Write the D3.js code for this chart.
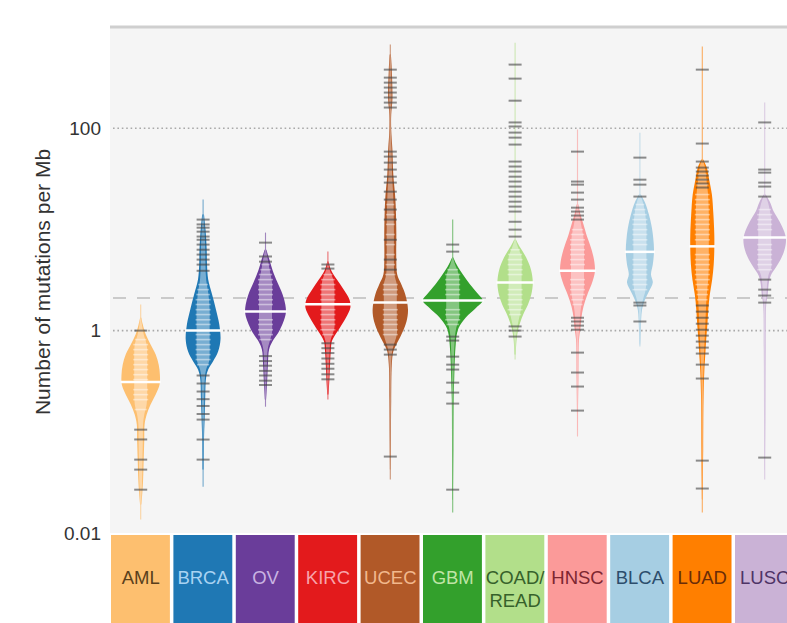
<!DOCTYPE html>
<html>
<head>
<meta charset="utf-8">
<script src="https://cdn.jsdelivr.net/npm/d3@7"></script>
<style>
  html, body { margin: 0; padding: 0; background: #ffffff; }
  svg { display: block; font-family: "Liberation Sans", Arial, Helvetica, sans-serif; }
</style>
</head>
<body>
<svg id="chart" width="787" height="623"></svg>
<script>
// Tumour types, left to right
const categories = ["AML", "BRCA", "OV", "KIRC", "UCEC", "GBM", "COAD/READ", "HNSC", "BLCA", "LUAD", "LUSC"];
const fillColors = ["#fdbf6f", "#1f78b4", "#6a3d9a", "#e31a1c", "#b15928", "#33a02c", "#b2df8a", "#fb9a99", "#a6cee3", "#ff7f00", "#cab2d6"];
const labelColors = ["#5a3f1c", "#a9d3f2", "#c9b3e2", "#f8a3ab", "#f2b88d", "#bfe5a6", "#36612b", "#7d2631", "#2c4d6c", "#6a2c08", "#4e3466"];

// Median mutations per Mb for each tumour type
const medians = [0.31, 1.0, 1.54, 1.82, 1.9, 1.98, 2.98, 3.9, 6.0, 6.8, 8.3];
// Extremes of each distribution (thin whisker line)
const extentHigh = [1.81, 19.7, 9.3, 6.04, 670, 12.5, 700, 97, 90, 640, 179];
const extentLow = [0.0136, 0.0287, 0.177, 0.208, 0.0337, 0.0159, 0.517, 0.0897, 0.695, 0.0159, 0.0337];

// Overall median across tumour types (dashed line)
const overallMedian = 2.1;
const yTicks = [0.01, 1, 100];
const gridValues = [1, 100];

// Density profiles: [mutations per Mb, relative density]
const amlDensity = [[1.34,.02],[1.15,.07],[0.913,.17],[0.727,.33],[0.579,.5],[0.461,.6],[0.367,.64],[0.293,.63],[0.233,.5],[0.186,.33],[0.148,.2],[0.118,.13],[0.0838,.12],[0.0531,.1],[0.0337,.08],[0.024,.05],[0.0191,.02]];
const brcaDensity = [[14,.03],[9.95,.08],[6.3,.12],[4.49,.13],[3.19,.17],[2.27,.3],[1.61,.43],[1.15,.54],[0.815,.58],[0.62,.5],[0.494,.33],[0.412,.17],[0.343,.1],[0.208,.07],[0.132,.05],[0.0838,.03],[0.0423,.02]];
const ovDensity = [[6.3,.03],[5.03,.13],[4.0,.23],[2.98,.4],[2.27,.57],[1.81,.66],[1.51,.68],[1.23,.6],[0.955,.43],[0.779,.23],[0.649,.12],[0.461,.08],[0.293,.05],[0.208,.02]];
const kircDensity = [[4.81,.02],[4.0,.1],[3.19,.3],[2.54,.53],[2.02,.72],[1.69,.75],[1.34,.6],[1.07,.4],[0.892,.23],[0.779,.13],[0.649,.1],[0.461,.07],[0.328,.05],[0.233,.02]];
const ucecDensity = [[534,.02],[379,.05],[192,.07],[136,.03],[97,.03],[61.5,.07],[34.8,.1],[19.7,.17],[9.95,.2],[5.03,.2],[3.58,.23],[2.85,.37],[2.27,.5],[1.61,.59],[1.23,.54],[0.913,.37],[0.727,.2],[0.62,.1],[0.461,.05],[0.208,.03],[0.0838,.02],[0.0423,.01]];
const gbmDensity = [[5.27,.02],[4.49,.13],[3.58,.34],[2.85,.58],[2.27,.86],[1.98,1.0],[1.69,.79],[1.34,.43],[1.07,.2],[0.892,.13],[0.727,.1],[0.517,.07],[0.328,.05],[0.208,.03],[0.0667,.02],[0.0214,.01]];
const coadDensity = [[7.9,.03],[6.61,.17],[5.27,.37],[4.0,.53],[2.98,.59],[2.27,.54],[1.81,.43],[1.44,.27],[1.2,.17],[1.02,.1],[0.815,.05],[0.579,.02]];
const hnscDensity = [[17.6,.03],[14,.1],[11.2,.2],[8.3,.33],[6.3,.47],[4.81,.56],[3.83,.58],[3.05,.5],[2.27,.33],[1.73,.2],[1.34,.13],[1.07,.1],[0.815,.05],[0.328,.03],[0.105,.01]];
const blcaDensity = [[22.1,.03],[18.4,.17],[14,.3],[10.4,.4],[7.9,.45],[6.04,.47],[4.49,.43],[3.58,.37],[2.98,.43],[2.43,.3],[2.02,.17],[1.61,.07],[1.02,.03],[0.727,.01]];
const luadDensity = [[49,.03],[40.8,.15],[31,.23],[22.1,.32],[14,.37],[8.9,.4],[6.3,.4],[4.49,.38],[3.19,.33],[2.27,.25],[1.61,.2],[1.15,.17],[0.815,.13],[0.579,.1],[0.412,.07],[0.208,.04],[0.0667,.03],[0.0214,.01]];
const luscDensity = [[22.1,.03],[18.8,.17],[15,.3],[11.9,.5],[9.51,.65],[7.9,.71],[6.3,.66],[5.03,.53],[4.2,.37],[3.49,.2],[2.85,.13],[2.27,.1],[1.81,.05],[0.649,.03],[0.132,.02],[0.0423,.01]];

// Individual samples inside the body of each distribution
const amlSamples = [0.815,0.727,0.649,0.579,0.517,0.461,0.412,0.367,0.328,0.261,0.233,0.208,0.166];
const brcaSamples = [2.85,2.54,2.27,2.02,1.81,1.61,1.44,1.28,1.15,0.913,0.815,0.727,0.649,0.579,0.517,0.461];
const ovSamples = [4.49,4.0,3.58,3.19,2.85,2.54,2.27,2.02,1.81,1.28,1.15,1.02,0.913,0.815];
const kircSamples = [3.58,3.19,2.85,2.54,2.27,2.02,1.61,1.44,1.28,1.15,1.02,0.913];
const ucecSamples = [17.6,14,11.2,8.9,7.08,5.64,4.49,3.58,2.85,2.54,2.27,1.61,1.44,1.28,1.15,1.02,0.913];
const gbmSamples = [4.0,3.58,3.19,2.85,2.54,2.27,1.61,1.44,1.28,1.15];
const coadSamples = [6.3,5.64,5.03,4.49,4.0,3.58,2.54,2.27,2.02,1.81,1.61,1.44];
const hnscSamples = [9.95,8.9,7.9,7.08,6.3,5.64,5.03,4.49,3.19,2.85,2.54,2.27,2.02,1.81];
const blcaSamples = [17.6,15.7,14,12.5,11.2,9.95,8.9,7.9,7.08,5.03,4.49,4.0,3.58,3.19,2.85,2.54];
const luadSamples = [34.8,31,27.7,22.1,19.7,17.6,15.7,14,12.5,11.2,9.95,8.9,7.9,5.64,5.03,4.49,4.0,3.58,3.19,2.85,2.54,2.27,2.02];
const luscSamples = [15.7,14,12.5,11.2,9.95,7.08,6.3,5.64,5.03,4.49,4.0];

// Outlying samples drawn as dark ticks
const amlTicks = [1.0,0.105,0.084,0.0531,0.0268,0.0423];
const brcaTicks = [12.5,11.2,10.4,9.5,8.5,7.9,7.08,6.3,5.64,5.03,4.49,3.9,0.36,0.3,0.25,0.21,0.18,0.15,0.132,0.0838,0.0531];
const ovTicks = [7.4,5.4,4.8,0.56,0.5,0.45,0.4,0.36,0.32,0.29];
const kircTicks = [4.5,4.1,0.75,0.67,0.6,0.53,0.47,0.42,0.37,0.33];
const ucecTicks = [379,316,282,252,225,201,179,160,58.7,52.4,45.7,39,33.2,29,23.6,19.7,15.7,12.5,7.9,5.03,4.0,0.727,0.649,0.579,0.0569];
const gbmTicks = [7.08,6.03,0.872,0.797,0.553,0.461,0.412,0.306,0.244,0.19,0.0268];
const coadTicks = [425,309,187,114,104,90.5,80.7,68.9,46.8,41.8,37.3,33.2,29.7,26.5,23.6,21.1,18.8,16.8,15,11.9,9.95,8.49,1.1,1.0,0.873];
const hnscTicks = [58.7,29.7,27.7,23.1,19.7,16.4,15,13.7,12.5,1.34,1.23,1.12,1.02,0.606,0.385,0.28,0.162];
const blcaTicks = [51.2,31,27.7,21.1,1.89,1.77,1.23];
const luadTicks = [379,70.5,46.8,40.8,37.3,34,31,28.4,25.9,1.77,1.54,1.34,1.17,1.02,0.892,0.779,0.679,0.593,0.461,0.336,0.0519,0.0275];
const luscTicks = [114,39,36.4,29,26.5,21.1,3.19,2.54,2.22,1.89,0.0556];

const densities = [amlDensity, brcaDensity, ovDensity, kircDensity, ucecDensity, gbmDensity, coadDensity, hnscDensity, blcaDensity, luadDensity, luscDensity];
const samples = [amlSamples, brcaSamples, ovSamples, kircSamples, ucecSamples, gbmSamples, coadSamples, hnscSamples, blcaSamples, luadSamples, luscSamples];
const ticks = [amlTicks, brcaTicks, ovTicks, kircTicks, ucecTicks, gbmTicks, coadTicks, hnscTicks, blcaTicks, luadTicks, luscTicks];

const svg = d3.select("#chart");
const plotLeft = 110, plotRight = 787, plotTop = 27, plotBottom = 533;

const y = d3.scaleLog().domain([0.01, 1000]).range([plotBottom, plotTop]);
const x = d3.scaleBand().domain(categories).range([109.5, 795.9]);
const w = d3.scaleLinear().domain([0, 1]).range([0, 30]);

// Plot background and top rule
svg.append("rect").attr("x", plotLeft).attr("y", plotTop).attr("width", plotRight - plotLeft)
  .attr("height", plotBottom - plotTop).attr("fill", "#f5f5f5");
svg.append("line").attr("x1", plotLeft).attr("x2", plotRight).attr("y1", plotTop).attr("y2", plotTop)
  .attr("stroke", "#cfcfcf").attr("stroke-width", 3);

// Dotted decade grid lines
svg.append("g").selectAll("line").data(gridValues).join("line")
  .attr("x1", plotLeft + 3).attr("x2", plotRight)
  .attr("y1", d => y(d)).attr("y2", d => y(d))
  .attr("stroke", "#a9a9a9").attr("stroke-width", 1.6).attr("stroke-dasharray", "1.6,2.8");

// Dashed overall median
svg.append("line").attr("x1", plotLeft + 3).attr("x2", plotRight)
  .attr("y1", y(overallMedian)).attr("y2", y(overallMedian))
  .attr("stroke", "#cacaca").attr("stroke-width", 2).attr("stroke-dasharray", "13,11");

// Y axis labels
const yAxis = d3.axisLeft(y).tickValues(yTicks).tickSize(0).tickPadding(8)
  .tickFormat(d => d >= 1 ? d3.format("d")(d) : String(d));
const ga = svg.append("g").attr("transform", `translate(${plotLeft - 1},0)`).call(yAxis);
ga.select(".domain").remove();
ga.selectAll("text").attr("font-size", 19).attr("fill", "#333")
  .attr("font-family", "'Liberation Sans', Arial, sans-serif");

svg.append("text").attr("transform", "translate(50,282) rotate(-90)")
  .attr("text-anchor", "middle").attr("font-size", 21).attr("fill", "#333")
  .text("Number of mutations per Mb");

// Linear interpolation of the density profile on the log axis
function densityAt(profile, v) {
  const lv = Math.log10(v);
  for (let i = 0; i < profile.length - 1; i++) {
    const a = Math.log10(profile[i][0]), b = Math.log10(profile[i + 1][0]);
    if (lv <= a && lv >= b) {
      const t = (a - lv) / (a - b);
      return profile[i][1] + t * (profile[i + 1][1] - profile[i][1]);
    }
  }
  return 0;
}

const violins = svg.append("g");
categories.forEach((c, i) => {
  const cx = x(c) + x.bandwidth() / 2;
  const g = violins.append("g");
  const prof = densities[i];

  // whisker through the full range
  g.append("line").attr("x1", cx).attr("x2", cx)
    .attr("y1", y(extentHigh[i])).attr("y2", y(extentLow[i]))
    .attr("stroke", fillColors[i]).attr("stroke-width", 1.1).attr("opacity", 0.6);

  // violin body
  const area = d3.area().curve(d3.curveCatmullRom.alpha(0.5))
    .y(d => y(d[0])).x0(d => cx - w(d[1])).x1(d => cx + w(d[1]));
  g.append("path").attr("d", area(prof)).attr("fill", fillColors[i]);

  // light central column
  const inner = d3.area().curve(d3.curveCatmullRom.alpha(0.5))
    .y(d => y(d[0]))
    .x0(d => cx - Math.min(w(d[1]) * 0.6, 6.5))
    .x1(d => cx + Math.min(w(d[1]) * 0.6, 6.5));
  g.append("path").attr("d", inner(prof)).attr("fill", "#ffffff").attr("opacity", 0.4);

  // individual samples as white stripes
  g.append("g").selectAll("line").data(samples[i]).join("line")
    .attr("x1", d => cx - Math.min(w(densityAt(prof, d)) * 0.75, 7.5))
    .attr("x2", d => cx + Math.min(w(densityAt(prof, d)) * 0.75, 7.5))
    .attr("y1", d => y(d)).attr("y2", d => y(d))
    .attr("stroke", "#ffffff").attr("stroke-width", 1.6).attr("opacity", 0.45);

  // outliers as dark ticks
  g.append("g").selectAll("line").data(ticks[i]).join("line")
    .attr("x1", cx - 6.5).attr("x2", cx + 6.5)
    .attr("y1", d => y(d)).attr("y2", d => y(d))
    .attr("stroke", "#444").attr("stroke-width", 2).attr("opacity", 0.6);

  // median
  const mh = w(densityAt(prof, medians[i])) + 1;
  g.append("line").attr("x1", cx - mh).attr("x2", cx + mh)
    .attr("y1", y(medians[i])).attr("y2", y(medians[i]))
    .attr("stroke", "#ffffff").attr("stroke-width", 2.5);
});

// Category boxes
const boxTop = 535;
const boxes = svg.append("g");
categories.forEach((c, i) => {
  const bx = x(c) + 1.5, bw = x.bandwidth() - 3.5;
  boxes.append("rect").attr("x", bx).attr("y", boxTop).attr("width", bw).attr("height", 623 - boxTop)
    .attr("fill", fillColors[i]);
  const lines = c.includes("/") ? [c.slice(0, c.indexOf("/") + 1), c.slice(c.indexOf("/") + 1)] : [c];
  const t = boxes.append("text").attr("text-anchor", "middle").attr("font-size", 18.5)
    .attr("fill", labelColors[i]);
  lines.forEach((s, k) => {
    t.append("tspan").attr("x", x(c) + x.bandwidth() / 2).attr("y", 584 + k * 23).text(s);
  });
});
</script>
</body>
</html>
